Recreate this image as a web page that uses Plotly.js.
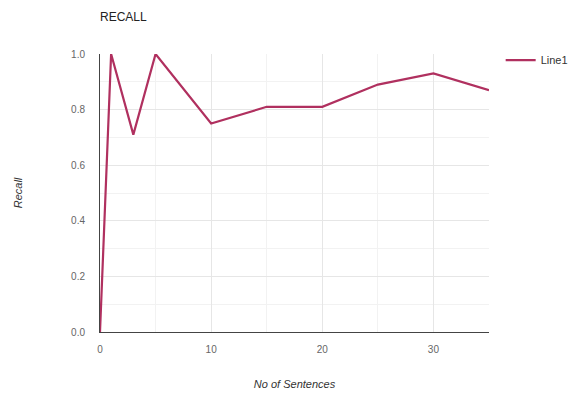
<!DOCTYPE html>
<html>
<head>
<meta charset="utf-8">
<script src="https://cdn.plot.ly/plotly-3.0.1.min.js"></script>
<style>
  html, body { margin: 0; padding: 0; background: #fff; }
  #chart { width: 574px; height: 396px; }
</style>
</head>
<body>
<div id="chart"></div>
<script>
// Recall measured against the number of sentences
const sentences = [0, 1, 3, 5, 10, 15, 20, 25, 30, 35];
const recall = [0, 1.0, 0.71, 1.0, 0.75, 0.81, 0.81, 0.89, 0.93, 0.87];
const seriesName = 'Line1';
const xTicks = [0, 10, 20, 30];
const yTicks = [0, 0.2, 0.4, 0.6, 0.8, 1.0];

const trace = {
  x: sentences,
  y: recall,
  type: 'scatter',
  mode: 'lines',
  name: seriesName,
  line: { color: '#b0305f', width: 2.2 },
  cliponaxis: false
};

const layout = {
  width: 574,
  height: 396,
  margin: { l: 100, r: 85, t: 54, b: 64, autoexpand: false },
  paper_bgcolor: '#fff',
  plot_bgcolor: '#fff',
  font: { family: 'Arial, Liberation Sans, sans-serif', size: 10, color: '#555' },
  title: {
    text: 'RECALL',
    x: 0, xref: 'paper', xanchor: 'left',
    y: 1, yref: 'container', yanchor: 'top',
    pad: { t: 13, l: 0 },
    font: { size: 12, color: '#222' }
  },
  xaxis: {
    range: [0, 35],
    tickvals: xTicks,
    ticktext: xTicks.map(String),
    showgrid: true,
    gridcolor: '#e6e6e6',
    minor: { dtick: 5, showgrid: true, gridcolor: '#f2f2f2' },
    zeroline: false,
    showline: true,
    linecolor: '#444',
    linewidth: 1,
    ticks: '',
    ticklen: 0,
    ticklabelstandoff: 8,
    title: { text: 'No of Sentences', font: { size: 11, color: '#333', style: 'italic' }, standoff: 26 },
    tickfont: { size: 10, color: '#666' },
    fixedrange: true
  },
  yaxis: {
    range: [0, 1.0],
    tickvals: yTicks,
    ticktext: yTicks.map(v => v.toFixed(1)),
    showgrid: true,
    gridcolor: '#e6e6e6',
    minor: { dtick: 0.1, showgrid: true, gridcolor: '#f2f2f2' },
    zeroline: false,
    showline: true,
    linecolor: '#444',
    linewidth: 1,
    ticks: '',
    ticklabelstandoff: 12,
    title: { text: 'Recall', font: { size: 11, color: '#333', style: 'italic' }, standoff: 46 },
    tickfont: { size: 10, color: '#666' },
    fixedrange: true
  },
  showlegend: true,
  legend: {
    x: 1.03, xanchor: 'left',
    y: 1.03, yanchor: 'top',
    font: { size: 11, color: '#333' },
    bgcolor: 'rgba(0,0,0,0)'
  }
};

Plotly.newPlot('chart', [trace], layout, { displayModeBar: false, staticPlot: true });
</script>
</body>
</html>
